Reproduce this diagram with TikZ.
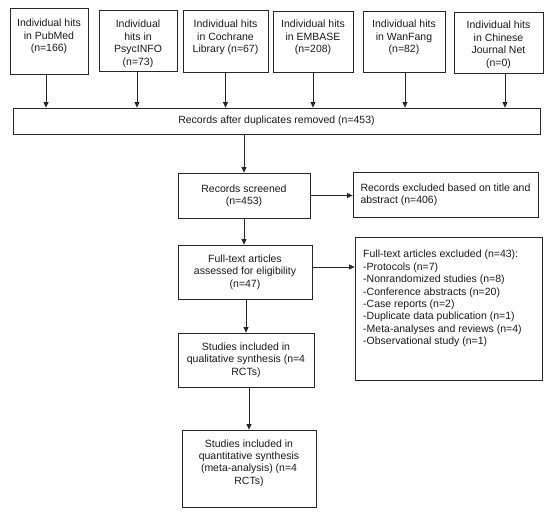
\documentclass[tikz,border=0pt]{standalone}
\usepackage{fontspec}
\setmainfont{Liberation Sans}
\usetikzlibrary{arrows.meta}
\newcommand\diagfont{\fontsize{10.5}{12.4}\selectfont}
\begin{document}
\begin{tikzpicture}[x=1pt,y=-1pt,
  box/.style={draw=black!85, line width=0.8pt, inner sep=0pt, font=\diagfont, align=center, text=black!90},
  lbl/.style={inner sep=0pt, font=\diagfont, align=center, text=black!90},
  arr/.style={draw=black!85, line width=0.8pt, -{Triangle[length=5.5pt,width=5pt]}}]
\useasboundingbox (0,0) rectangle (550,515);
% top source boxes
\node[box, minimum width=78, minimum height=66] (pubmed) at (49,41) {};
\node[box, minimum width=78, minimum height=61] (psyc) at (138,40.5) {};
\node[box, minimum width=85, minimum height=62] (cochrane) at (225.5,41) {};
\node[box, minimum width=80, minimum height=61] (embase) at (313,41.5) {};
\node[box, minimum width=82, minimum height=61] (wanfang) at (404,41.5) {};
\node[box, minimum width=89, minimum height=61] (chinese) at (498.5,42.5) {};
\node[lbl, anchor=north] (pubmedT) at (49,19) {Individual hits\\in PubMed\\(n=166)};
\node[lbl, anchor=north] (psycT) at (138,20) {Individual\\hits in\\PsycINFO\\(n=73)};
\node[lbl, anchor=north] (cochraneT) at (225.5,20) {Individual hits\\in Cochrane\\Library (n=67)};
\node[lbl, anchor=north] (embaseT) at (313,20) {Individual hits\\in EMBASE\\(n=208)};
\node[lbl, anchor=north] (wanfangT) at (404,20) {Individual hits\\in WanFang\\(n=82)};
\node[lbl, anchor=north] (chineseT) at (498.5,21) {Individual hits\\in Chinese\\Journal Net\\(n=0)};
% main column
\node[box, minimum width=527, minimum height=26] (dup) at (276.5,121) {Records after duplicates removed (n=453)};
\node[box, minimum width=132, minimum height=45] (screened) at (244,195.5) {Records screened\\(n=453)};
\node[box, minimum width=185, minimum height=45, align=left] (excl1) at (445.5,194.5) {Records excluded based on title and\\abstract (n=406)};
\node[box, minimum width=134, minimum height=54] (fulltext) at (245,272) {Full-text articles\\assessed for eligibility\\(n=47)};
\node[box, minimum width=187, minimum height=143] (excl2) at (448.5,308.5) {};
\node[lbl, anchor=north west, align=left] (excl2T) at (363,250) {Full-text articles excluded (n=43):\\-Protocols (n=7)\\-Nonrandomized studies (n=8)\\-Conference abstracts (n=20)\\-Case reports (n=2)\\-Duplicate data publication (n=1)\\-Meta-analyses and reviews (n=4)\\-Observational study (n=1)};
\node[box, minimum width=136, minimum height=54] (qual) at (246,360) {Studies included in\\qualitative synthesis (n=4\\RCTs)};
\node[box, minimum width=134, minimum height=77] (quant) at (249,468.5) {};
\node[lbl] (quantT) at (249,463) {Studies included in\\quantitative synthesis\\(meta-analysis) (n=4\\RCTs)};
% connectors
\draw[arr] ([xshift=-3pt]pubmed.south) -- ([xshift=-3pt]pubmed.south |- dup.north);
\draw[arr] ([xshift=-1pt]psyc.south) -- ([xshift=-1pt]psyc.south |- dup.north);
\draw[arr] (cochrane.south) -- (cochrane.south |- dup.north);
\draw[arr] (embase.south) -- (embase.south |- dup.north);
\draw[arr] ([xshift=1pt]wanfang.south) -- ([xshift=1pt]wanfang.south |- dup.north);
\draw[arr] ([xshift=6.5pt]chinese.south) -- ([xshift=6.5pt]chinese.south |- dup.north);
\draw[arr] (screened.north |- dup.south) -- (screened.north);
\draw[arr] (screened.east) -- (screened.east -| excl1.west);
\draw[arr] (screened.south) -- (screened.south |- fulltext.north);
\draw[arr] ([yshift=5pt]fulltext.east) -- ([yshift=5pt]fulltext.east -| excl2.west);
\draw[arr] (qual.north |- fulltext.south) -- (qual.north);
\draw[arr] (quant.north |- qual.south) -- (quant.north);
\end{tikzpicture}
\end{document}
